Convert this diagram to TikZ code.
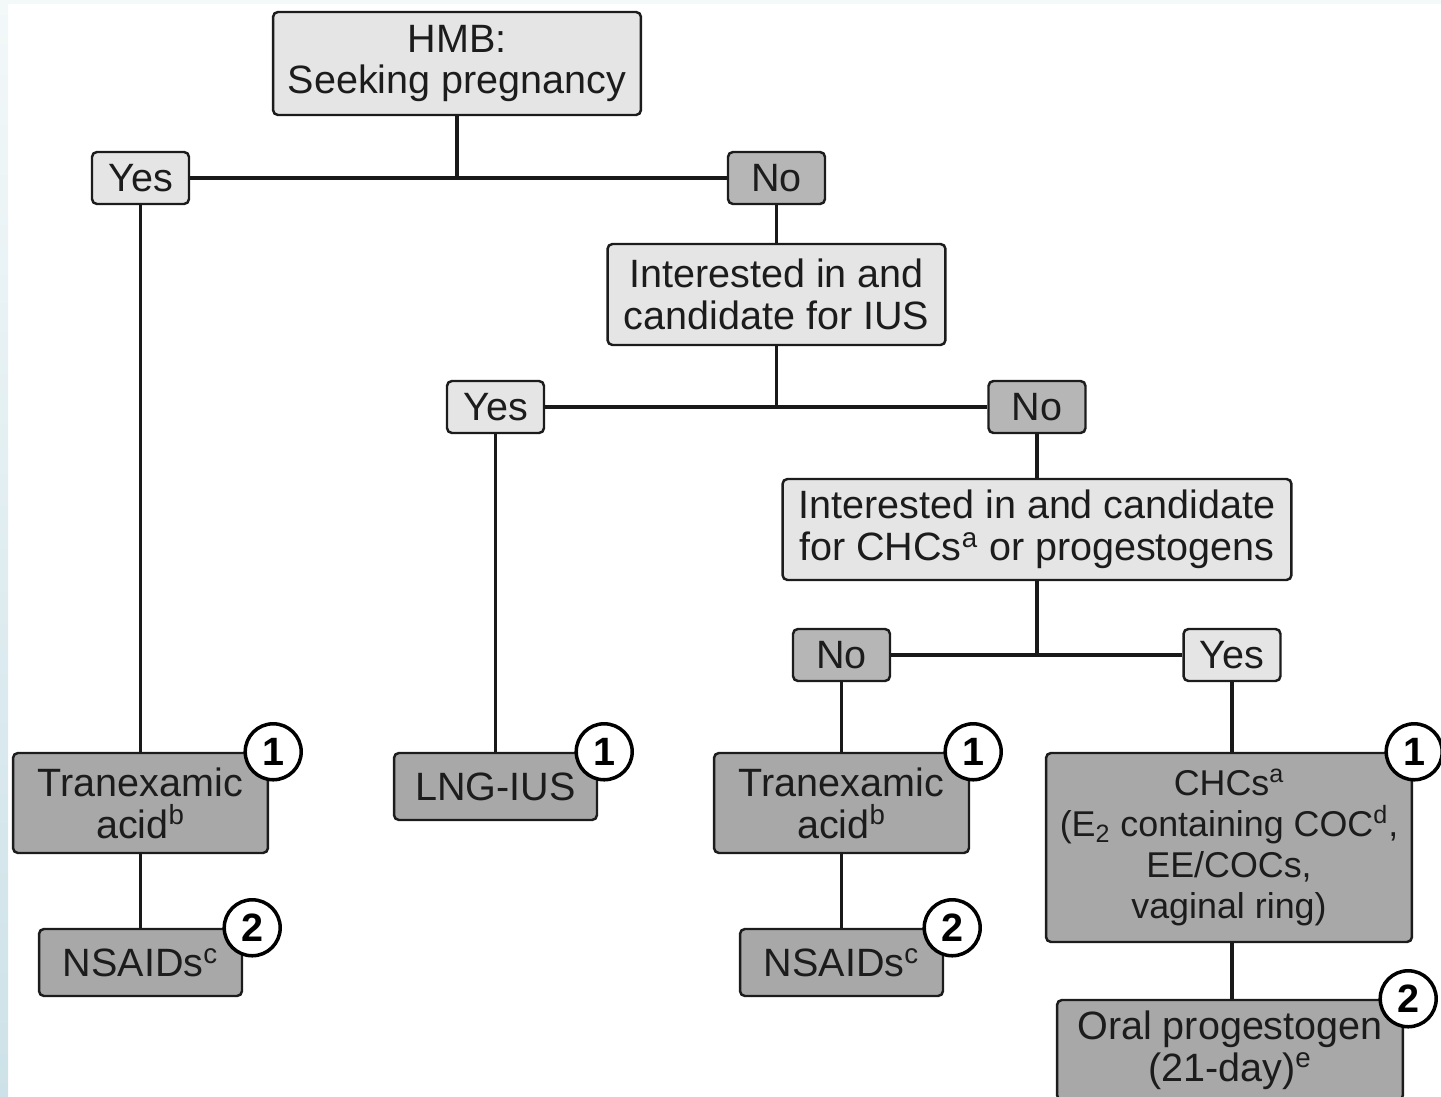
\documentclass[tikz,border=0pt]{standalone}
\usepackage{fontspec}
\setmainfont{Liberation Sans}

\definecolor{askfill}{RGB}{229,229,229}
\definecolor{nofill}{RGB}{182,182,182}
\definecolor{drugfill}{RGB}{168,168,168}
\definecolor{inkgray}{RGB}{28,28,28}
\definecolor{edgetint}{RGB}{243,248,249}
\definecolor{edgeblue}{RGB}{205,226,232}

\begin{document}
\begin{tikzpicture}[x=0.02cm, y=-0.02cm,
    every node/.style={font=\fontsize{22.5}{23.8}\selectfont, text=inkgray},
    box/.style={draw=inkgray, line width=1.4pt, rounded corners=2.8pt,
      inner sep=0, align=center},
    ask/.style={box, fill=askfill},
    yesbox/.style={box, fill=askfill, minimum width=1.94cm, minimum height=1.04cm},
    nobox/.style={box, fill=nofill, minimum width=1.94cm, minimum height=1.04cm},
    drug/.style={box, fill=drugfill},
    badge/.style={draw=black, fill=white, circle, line width=2pt, inner sep=0,
      minimum size=1.12cm, text=black,
      font=\fontsize{22.5}{23.8}\selectfont\bfseries},
    link/.style={line width=2.1pt, draw=black!90}]

    \useasboundingbox (0,0) rectangle (1441,1097);

    % Page edge
    \fill[edgetint] (0,0) rectangle (1441,4);
    \fill[top color=edgetint, bottom color=edgeblue] (0,0) rectangle (8,1097);

    % Questions
    \node[ask, minimum width=7.36cm, minimum height=2.06cm]
    (HMB) at (457,63.5) {HMB:\\Seeking pregnancy};
    \node[yesbox] (Yes1) at (140.5,178) {Yes};
    \node[nobox] (No1) at (776.5,178) {No};
    \node[ask, minimum width=6.76cm, minimum height=2.02cm]
    (IUS) at (776.5,294.5) {Interested in and\\candidate for IUS};
    \node[yesbox] (Yes2) at (495.5,407) {Yes};
    \node[nobox] (No2) at (1037,407) {No};
    \node[ask, minimum width=10.18cm, minimum height=2.02cm]
    (CHCask) at (1037,529.5)
    {Interested in and candidate\\for CHCs\textsuperscript{a} or progestogens};
    \node[nobox] (No3) at (841.5,655) {No};
    \node[yesbox] (Yes3) at (1232,655) {Yes};

    % Treatments
    \node[drug, minimum width=5.1cm, minimum height=2cm]
    (TXA1) at (140.5,803) {Tranexamic\\acid\textsuperscript{b}};
    \node[drug, minimum width=4.06cm, minimum height=1.34cm]
    (NSAID1) at (140.5,962.5) {NSAIDs\textsuperscript{c}};
    \node[drug, minimum width=4.06cm, minimum height=1.34cm]
    (LNG) at (495.5,786.5) {LNG-IUS};
    \node[drug, minimum width=5.1cm, minimum height=2cm]
    (TXA2) at (841.5,803) {Tranexamic\\acid\textsuperscript{b}};
    \node[drug, minimum width=4.06cm, minimum height=1.34cm]
    (NSAID2) at (841.5,962.5) {NSAIDs\textsuperscript{c}};
    \node[drug, minimum width=7.32cm, minimum height=3.78cm,
      font=\fontsize{20.4}{23.4}\selectfont]
    (CHC) at (1229,847.5)
    {CHCs\textsuperscript{a}\\(E\textsubscript{2} containing COC\textsuperscript{d},\\EE/COCs,\\vaginal ring)};
    \node[drug, minimum width=6.92cm, minimum height=2cm]
    (Oral) at (1230,1050) {Oral progestogen\\(21-day)\textsuperscript{e}};

    % Branches
    \draw[link] (HMB) -- (HMB |- Yes1);
    \draw[link] (Yes1) -- (No1);
    \draw[link] (No1) -- (IUS);
    \draw[link] (IUS) -- (IUS |- Yes2);
    \draw[link] (Yes2) -- (No2);
    \draw[link] (No2) -- (CHCask);
    \draw[link] (CHCask) -- (CHCask |- No3);
    \draw[link] (No3) -- (Yes3);
    \draw[link] (Yes1) -- (TXA1);
    \draw[link] (TXA1) -- (NSAID1);
    \draw[link] (Yes2) -- (LNG);
    \draw[link] (No3) -- (TXA2);
    \draw[link] (TXA2) -- (NSAID2);
    \draw[link] (Yes3) -- (Yes3 |- CHC.north);
    \draw[link] (Yes3 |- CHC.south) -- (Yes3 |- Oral.north);

    % Lines of treatment
    \node[badge] (TXA1n) at ([xshift=0.08cm]TXA1.north east) {1};
    \node[badge] (NSAID1n) at ([xshift=0.18cm]NSAID1.north east) {2};
    \node[badge] (LNGn) at ([xshift=0.12cm]LNG.north east) {1};
    \node[badge] (TXA2n) at ([xshift=0.06cm]TXA2.north east) {1};
    \node[badge] (NSAID2n) at ([xshift=0.16cm]NSAID2.north east) {2};
    \node[badge] (CHCn) at ([xshift=0.02cm]CHC.north east) {1};
    \node[badge] (Oraln) at ([xshift=0.08cm]Oral.north east) {2};

\end{tikzpicture}
\end{document}
